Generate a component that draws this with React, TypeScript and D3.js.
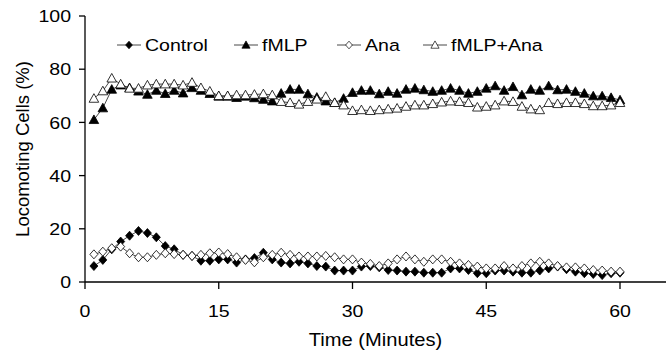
import React from "react";
import * as d3 from "d3";

const minutes = d3.range(1, 61);
const xTicks = [0, 15, 30, 45, 60];
const yTicks = [0, 20, 40, 60, 80, 100];

const control = [6, 8.3, 12.3, 15.2, 17.4, 19.2, 18.4, 16.8, 13.5, 12.3, 10.2, 9.8, 8, 8, 8.5, 8.5, 7.3, 8.5, 9, 11, 8.5, 7.3, 7, 7.6, 7, 6, 5.8, 4.3, 4.3, 4.3, 5.8, 6, 5.5, 4.5, 4.3, 3.9, 3.9, 3.5, 3.5, 3.5, 5.1, 5.1, 4.5, 3.3, 3.3, 4.3, 4.3, 3.9, 3.5, 3.5, 4.3, 5.1, 5.8, 4.8, 3.9, 3.3, 3, 2.6, 3.3, 3.5];
const fmlp = [61, 65.4, 72.4, 74, 73, 71.7, 70.5, 72, 70.8, 72, 71, 73, 72, 70.8, 69.8, 69.8, 69.3, 69.8, 69.2, 68.6, 68, 70.9, 72.4, 72.4, 70.7, 69.4, 68, 67.4, 69, 71.2, 72, 72, 70.7, 71.6, 70.9, 72.4, 72.8, 72.2, 71.6, 72, 72.8, 72, 70.9, 71.6, 72.8, 73.7, 72, 73.4, 70.3, 72.4, 72, 73.7, 72.2, 72.4, 71.6, 70.9, 69.9, 69.9, 69.3, 68.4];
const ana = [10.4, 11.4, 12.7, 13.3, 10.8, 9.3, 9.3, 10.2, 10.8, 10.5, 10.2, 9.8, 10.2, 10.8, 11.1, 10.5, 9.3, 8.3, 7.4, 9.3, 10.2, 11, 10.2, 9.6, 9.6, 9.6, 9.8, 9.3, 8.5, 8.5, 7.3, 6.8, 6, 7, 8.5, 9.6, 8.5, 7.6, 8.5, 8.5, 7.6, 7, 6.4, 5.8, 5.1, 5.1, 6, 5.1, 6, 7, 7.6, 7, 6, 5.5, 5.5, 5.1, 4.5, 4.3, 3.9, 3.9];
const fmlpAna = [69, 71.8, 76.6, 74.4, 72.8, 72.8, 74, 74.4, 74.4, 74.4, 74, 75, 73, 71.7, 70, 70, 70.3, 70.3, 70.5, 70.7, 70.3, 67.8, 67.4, 66.8, 67.8, 68.7, 69.7, 67.4, 66.5, 64.4, 64.7, 64.4, 64.7, 65, 65.3, 66, 66.5, 66.5, 67, 67.6, 68, 67.8, 67.4, 65.7, 66, 66.5, 68, 67.8, 66, 65, 64.7, 67.4, 67, 67.4, 67.4, 67, 66.2, 66.2, 66.5, 67.4];

const seriesNames = ["Control", "fMLP", "Ana", "fMLP+Ana"];
const seriesValues = [control, fmlp, ana, fmlpAna];
const seriesShapes = ["diamond", "triangle", "diamond", "triangle"];
const seriesFilled = [true, true, false, false];

const FONT = "'Liberation Sans', Arial, Helvetica, sans-serif";
const SX = 1.15; // horizontal stretch of the reference's lettering

function markerPath(shape: string) {
  if (shape === "diamond") return "M0,-4.5L4,0L0,4.5L-4,0Z";
  return "M0,-4.8L4.8,3.8L-4.8,3.8Z";
}

function SText(props: {
  x: number;
  y: number;
  anchor?: "start" | "middle" | "end";
  size: number;
  dy?: string;
  children: React.ReactNode;
}) {
  return (
    <text
      transform={`translate(${props.x},${props.y}) scale(${SX},1)`}
      textAnchor={props.anchor || "start"}
      fontSize={props.size}
      dy={props.dy}
    >
      {props.children}
    </text>
  );
}

export default function App() {
  const x = d3.scaleLinear().domain([0, 60]).range([85, 620]);
  const y = d3.scaleLinear().domain([0, 100]).range([282, 16]);
  const line = d3
    .line<number>()
    .x((_, i) => x(minutes[i]))
    .y((d) => y(d));

  const legendTextX = [145, 262, 365, 451];
  const axisEnd = 666;

  return (
    <svg
      width={669}
      height={353}
      style={{ position: "absolute", left: 0, top: 0, background: "#fff" }}
      fontFamily={FONT}
    >
      <rect width={669} height={353} fill="#fff" />
      {/* axes */}
      <line x1={85} x2={axisEnd} y1={282} y2={282} stroke="#000" strokeWidth={1.3} />
      <line x1={85} x2={85} y1={16} y2={282} stroke="#000" strokeWidth={1.3} />
      {yTicks.map((t) => (
        <g key={"y" + t}>
          <line x1={79} x2={85} y1={y(t)} y2={y(t)} stroke="#000" strokeWidth={1.3} />
          <SText x={71} y={y(t)} dy="0.36em" anchor="end" size={17}>
            {t}
          </SText>
        </g>
      ))}
      {xTicks.map((t) => (
        <g key={"x" + t}>
          <line x1={x(t)} x2={x(t)} y1={282} y2={289} stroke="#000" strokeWidth={1.3} />
          <SText x={x(t)} y={317} anchor="middle" size={17}>
            {t}
          </SText>
        </g>
      ))}
      <SText x={(85 + axisEnd) / 2} y={346} anchor="middle" size={17.5}>
        Time (Minutes)
      </SText>
      <text
        transform={`translate(29,${(16 + 282) / 2}) rotate(-90)`}
        textAnchor="middle"
        fontSize={18.5}
      >
        Locomoting Cells (%)
      </text>
      {/* series */}
      {seriesValues.map((vals, si) => (
        <g key={seriesNames[si]}>
          <path d={line(vals) || ""} fill="none" stroke="#333" strokeWidth={0.9} />
          {vals.map((v, i) => (
            <path
              key={i}
              d={markerPath(seriesShapes[si])}
              transform={`translate(${x(minutes[i])},${y(v)})`}
              fill={seriesFilled[si] ? "#000" : "#fff"}
              stroke="#000"
              strokeWidth={0.8}
            />
          ))}
        </g>
      ))}
      {/* legend */}
      {seriesNames.map((name, si) => (
        <g key={"lg" + name}>
          <line
            x1={legendTextX[si] - 28}
            x2={legendTextX[si] - 4}
            y1={45}
            y2={45}
            stroke="#333"
            strokeWidth={0.9}
          />
          <path
            d={markerPath(seriesShapes[si])}
            transform={`translate(${legendTextX[si] - 16},45) scale(0.85)`}
            fill={seriesFilled[si] ? "#000" : "#fff"}
            stroke="#000"
            strokeWidth={0.8}
          />
          <SText x={legendTextX[si]} y={45} dy="0.36em" size={17}>
            {name}
          </SText>
        </g>
      ))}
    </svg>
  );
}
